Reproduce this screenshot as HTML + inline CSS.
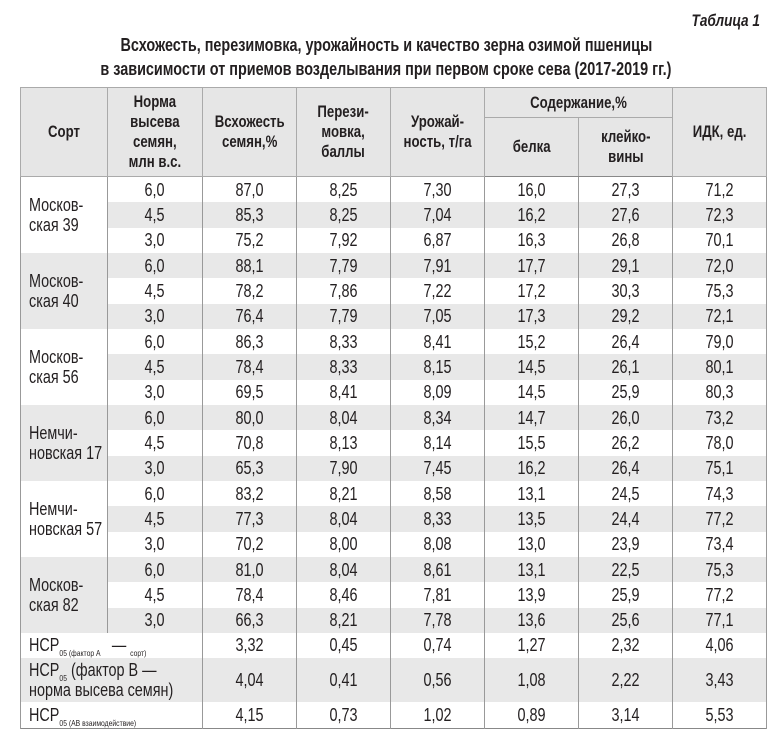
<!DOCTYPE html>
<html><head><meta charset="utf-8"><style>
body{margin:0;width:772px;height:754px;background:#fff;font-family:"Liberation Sans Narrow","Liberation Sans",sans-serif;color:#231f20;position:relative;overflow:hidden}
.c{display:inline-block;transform:scaleX(.8);transform-origin:center;white-space:nowrap}
.cl{display:inline-block;transform:scaleX(.8);transform-origin:left center;white-space:nowrap}
#t1{position:absolute;right:4px;top:11px;font-weight:bold;font-style:italic;font-size:17px}
.ti{position:absolute;left:0;width:772px;text-align:center;font-weight:bold;font-size:18px}
table{position:absolute;left:20px;top:87px;border-collapse:collapse;table-layout:fixed;width:746px}
td,th{padding:0;text-align:center;vertical-align:middle;border-left:1px solid #999;border-right:1px solid #999;font-size:18px;line-height:20px}
th{background:#e6e6e6;font-weight:bold;font-size:16.5px;line-height:20px;border:1px solid #aaa}
tr.h2 th{border-bottom:1.5px solid #888}
tr.d td{height:25.33px}
tr.g td.v{background:#e8e8e8}
td.s{text-align:left;padding-left:8px;vertical-align:middle}
td.sg{background:#e8e8e8}
tr.n td{background:#fff}
tr.ng td{background:#e8e8e8}
tr.n td{line-height:18px}
tr.ng td{line-height:20px}
table{border-bottom:1.5px solid #888}
sub{font-size:8.5px;vertical-align:baseline;position:relative;top:5px;line-height:0}
</style></head><body>
<div id="t1"><span class="c">Таблица 1</span></div>
<div class="ti" style="top:35px"><span class="c">Всхожесть, перезимовка, урожайность и качество зерна озимой пшеницы</span></div>
<div class="ti" style="top:59px"><span class="c">в зависимости от приемов возделывания при первом сроке сева (2017-2019 гг.)</span></div>
<table>
<colgroup><col style="width:87px"><col style="width:95px"><col style="width:94px"><col style="width:94px"><col style="width:94px"><col style="width:94px"><col style="width:94px"><col style="width:94px"></colgroup>
<tr style="height:30px"><th rowspan="2"><span class="c">Сорт</span></th><th rowspan="2"><span class="c">Норма<br>высева<br>семян,<br>млн в.с.</span></th><th rowspan="2"><span class="c">Всхожесть<br>семян,%</span></th><th rowspan="2"><span class="c">Перези-<br>мовка,<br>баллы</span></th><th rowspan="2"><span class="c">Урожай-<br>ность, т/га</span></th><th colspan="2"><span class="c">Содержание,%</span></th><th rowspan="2"><span class="c">ИДК, ед.</span></th></tr>
<tr class="h2" style="height:59px"><th><span class="c">белка</span></th><th><span class="c">клейко-<br>вины</span></th></tr>

<tr class="d"><td class="s" rowspan="3"><span class="cl">Москов-<br>ская 39</span></td><td class="v"><span class="c">6,0</span></td><td class="v"><span class="c">87,0</span></td><td class="v"><span class="c">8,25</span></td><td class="v"><span class="c">7,30</span></td><td class="v"><span class="c">16,0</span></td><td class="v"><span class="c">27,3</span></td><td class="v"><span class="c">71,2</span></td></tr>
<tr class="d g"><td class="v"><span class="c">4,5</span></td><td class="v"><span class="c">85,3</span></td><td class="v"><span class="c">8,25</span></td><td class="v"><span class="c">7,04</span></td><td class="v"><span class="c">16,2</span></td><td class="v"><span class="c">27,6</span></td><td class="v"><span class="c">72,3</span></td></tr>
<tr class="d"><td class="v"><span class="c">3,0</span></td><td class="v"><span class="c">75,2</span></td><td class="v"><span class="c">7,92</span></td><td class="v"><span class="c">6,87</span></td><td class="v"><span class="c">16,3</span></td><td class="v"><span class="c">26,8</span></td><td class="v"><span class="c">70,1</span></td></tr>

<tr class="d g"><td class="s sg" rowspan="3"><span class="cl">Москов-<br>ская 40</span></td><td class="v"><span class="c">6,0</span></td><td class="v"><span class="c">88,1</span></td><td class="v"><span class="c">7,79</span></td><td class="v"><span class="c">7,91</span></td><td class="v"><span class="c">17,7</span></td><td class="v"><span class="c">29,1</span></td><td class="v"><span class="c">72,0</span></td></tr>
<tr class="d"><td class="v"><span class="c">4,5</span></td><td class="v"><span class="c">78,2</span></td><td class="v"><span class="c">7,86</span></td><td class="v"><span class="c">7,22</span></td><td class="v"><span class="c">17,2</span></td><td class="v"><span class="c">30,3</span></td><td class="v"><span class="c">75,3</span></td></tr>
<tr class="d g"><td class="v"><span class="c">3,0</span></td><td class="v"><span class="c">76,4</span></td><td class="v"><span class="c">7,79</span></td><td class="v"><span class="c">7,05</span></td><td class="v"><span class="c">17,3</span></td><td class="v"><span class="c">29,2</span></td><td class="v"><span class="c">72,1</span></td></tr>

<tr class="d"><td class="s" rowspan="3"><span class="cl">Москов-<br>ская 56</span></td><td class="v"><span class="c">6,0</span></td><td class="v"><span class="c">86,3</span></td><td class="v"><span class="c">8,33</span></td><td class="v"><span class="c">8,41</span></td><td class="v"><span class="c">15,2</span></td><td class="v"><span class="c">26,4</span></td><td class="v"><span class="c">79,0</span></td></tr>
<tr class="d g"><td class="v"><span class="c">4,5</span></td><td class="v"><span class="c">78,4</span></td><td class="v"><span class="c">8,33</span></td><td class="v"><span class="c">8,15</span></td><td class="v"><span class="c">14,5</span></td><td class="v"><span class="c">26,1</span></td><td class="v"><span class="c">80,1</span></td></tr>
<tr class="d"><td class="v"><span class="c">3,0</span></td><td class="v"><span class="c">69,5</span></td><td class="v"><span class="c">8,41</span></td><td class="v"><span class="c">8,09</span></td><td class="v"><span class="c">14,5</span></td><td class="v"><span class="c">25,9</span></td><td class="v"><span class="c">80,3</span></td></tr>

<tr class="d g"><td class="s sg" rowspan="3"><span class="cl">Немчи-<br>новская 17</span></td><td class="v"><span class="c">6,0</span></td><td class="v"><span class="c">80,0</span></td><td class="v"><span class="c">8,04</span></td><td class="v"><span class="c">8,34</span></td><td class="v"><span class="c">14,7</span></td><td class="v"><span class="c">26,0</span></td><td class="v"><span class="c">73,2</span></td></tr>
<tr class="d"><td class="v"><span class="c">4,5</span></td><td class="v"><span class="c">70,8</span></td><td class="v"><span class="c">8,13</span></td><td class="v"><span class="c">8,14</span></td><td class="v"><span class="c">15,5</span></td><td class="v"><span class="c">26,2</span></td><td class="v"><span class="c">78,0</span></td></tr>
<tr class="d g"><td class="v"><span class="c">3,0</span></td><td class="v"><span class="c">65,3</span></td><td class="v"><span class="c">7,90</span></td><td class="v"><span class="c">7,45</span></td><td class="v"><span class="c">16,2</span></td><td class="v"><span class="c">26,4</span></td><td class="v"><span class="c">75,1</span></td></tr>

<tr class="d"><td class="s" rowspan="3"><span class="cl">Немчи-<br>новская 57</span></td><td class="v"><span class="c">6,0</span></td><td class="v"><span class="c">83,2</span></td><td class="v"><span class="c">8,21</span></td><td class="v"><span class="c">8,58</span></td><td class="v"><span class="c">13,1</span></td><td class="v"><span class="c">24,5</span></td><td class="v"><span class="c">74,3</span></td></tr>
<tr class="d g"><td class="v"><span class="c">4,5</span></td><td class="v"><span class="c">77,3</span></td><td class="v"><span class="c">8,04</span></td><td class="v"><span class="c">8,33</span></td><td class="v"><span class="c">13,5</span></td><td class="v"><span class="c">24,4</span></td><td class="v"><span class="c">77,2</span></td></tr>
<tr class="d"><td class="v"><span class="c">3,0</span></td><td class="v"><span class="c">70,2</span></td><td class="v"><span class="c">8,00</span></td><td class="v"><span class="c">8,08</span></td><td class="v"><span class="c">13,0</span></td><td class="v"><span class="c">23,9</span></td><td class="v"><span class="c">73,4</span></td></tr>

<tr class="d g"><td class="s sg" rowspan="3"><span class="cl">Москов-<br>ская 82</span></td><td class="v"><span class="c">6,0</span></td><td class="v"><span class="c">81,0</span></td><td class="v"><span class="c">8,04</span></td><td class="v"><span class="c">8,61</span></td><td class="v"><span class="c">13,1</span></td><td class="v"><span class="c">22,5</span></td><td class="v"><span class="c">75,3</span></td></tr>
<tr class="d"><td class="v"><span class="c">4,5</span></td><td class="v"><span class="c">78,4</span></td><td class="v"><span class="c">8,46</span></td><td class="v"><span class="c">7,81</span></td><td class="v"><span class="c">13,9</span></td><td class="v"><span class="c">25,9</span></td><td class="v"><span class="c">77,2</span></td></tr>
<tr class="d g"><td class="v"><span class="c">3,0</span></td><td class="v"><span class="c">66,3</span></td><td class="v"><span class="c">8,21</span></td><td class="v"><span class="c">7,78</span></td><td class="v"><span class="c">13,6</span></td><td class="v"><span class="c">25,6</span></td><td class="v"><span class="c">77,1</span></td></tr>

<tr class="n" style="height:25px"><td colspan="2" class="s"><span class="cl">НСР<sub>05 (фактор А &nbsp;&nbsp;&nbsp;&nbsp;&nbsp;</sub>—<sub> &nbsp;сорт)</sub></span></td><td><span class="c">3,32</span></td><td><span class="c">0,45</span></td><td><span class="c">0,74</span></td><td><span class="c">1,27</span></td><td><span class="c">2,32</span></td><td><span class="c">4,06</span></td></tr>
<tr class="ng" style="height:44px"><td colspan="2" class="s"><span class="cl">НСР<sub>05</sub> (фактор В —<br>норма высева семян)</span></td><td><span class="c">4,04</span></td><td><span class="c">0,41</span></td><td><span class="c">0,56</span></td><td><span class="c">1,08</span></td><td><span class="c">2,22</span></td><td><span class="c">3,43</span></td></tr>
<tr class="n" style="height:27px"><td colspan="2" class="s"><span class="cl">НСР<sub>05 (АВ взаимодействие)</sub></span></td><td><span class="c">4,15</span></td><td><span class="c">0,73</span></td><td><span class="c">1,02</span></td><td><span class="c">0,89</span></td><td><span class="c">3,14</span></td><td><span class="c">5,53</span></td></tr>
</table>
</body></html>
